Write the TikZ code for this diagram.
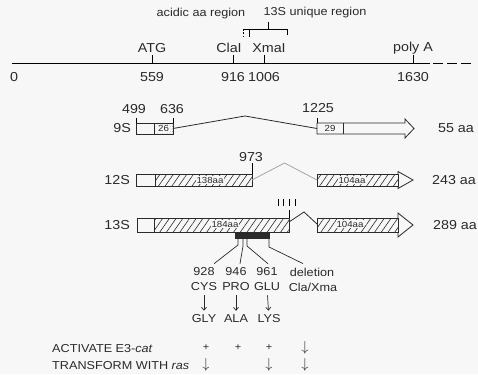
\documentclass[tikz,border=0pt]{standalone}
\usepackage{fontspec}
\setmainfont[FakeStretch=1.1]{Liberation Sans}
\usetikzlibrary{arrows.meta, positioning, calc, patterns.meta}
\definecolor{Paper}{HTML}{F7F7F7}
\definecolor{Ink}{HTML}{2A2A2A}

\begin{document}
\begin{tikzpicture}[
    x=1pt, y=-1pt,
    every node/.style={inner sep=0pt, text=Ink},
    big/.style={font=\fontsize{13}{15}\selectfont},
    mid/.style={font=\fontsize{11.5}{13}\selectfont},
    tiny/.style={font=\fontsize{8.8}{10}\selectfont, fill=Paper, inner sep=0.8pt},
    plusmark/.style={font=\fontsize{10}{12}\selectfont},
    down/.style={font=\fontsize{15}{16}\selectfont},
    exon/.style={draw=Ink, line width=0.8pt},
    coding/.style={pattern={Lines[angle=55, distance=5.5pt, line width=0.6pt]}, pattern color=Ink},
    dotted9/.style={pattern={Dots[distance=2.5pt, radius=0.35pt]}, pattern color=black!55},
    intron/.style={draw=Ink, line width=0.8pt},
    leader/.style={draw=Ink, line width=0.7pt},
    arr/.style={-{Straight Barb[length=3pt, width=5pt]}, line width=0.7pt, draw=Ink,
        shorten <=4pt, shorten >=4pt}
]
\useasboundingbox (0,0) rectangle (478,374);
\fill[Paper] (0,0) rectangle (478,374);

% =============================================
% MAP: regions, sites and scale
% =============================================
\node[mid] (acid) at (201,14) {acidic aa region};
\node[mid] (uniq) at (315,13) {13S unique region};

\coordinate (brA) at (243,29);
\coordinate (brB) at (287,29);
\draw[line width=0.7pt] (brA) -- (brB) (brB) -- ++(0,6)
    (249,29) -- ++(0,8) ($(brA)!0.57!(brB)$) -- ++(0,-7);
\draw[line width=0.7pt, dash pattern=on 2pt off 1.5pt] (brA) -- ++(0,8);

\coordinate (o) at (12,63);
\coordinate (pa) at (430,63);
\draw[line width=0.9pt] (o) -- (pa);
\draw[line width=0.9pt, dash pattern=on 10pt off 4pt] ([xshift=3pt]pa) -- ++(38,0);
\node[big] (p0) at (14,77) {0};

\foreach \x/\lx/\site/\pos in {152/152/ATG/559, 233/229/ClaI/916,
    264/269/XmaI/1006, 413/413/poly A/1630}{
    \draw[line width=0.7pt] (\x,55) -- (\x,63);
    \node[big] (site\pos) at (\lx,48) {\site};
    \node[big] (p\pos) at (\x,77) {\pos};
}

% =============================================
% 9S
% =============================================
\node[big, anchor=east] (r9) at (131,128.5) {9S};
\draw[exon] (136,123) rectangle (154,134);
\draw[exon, dotted9] (154,123) rectangle (173,134);
\node[tiny] (c26) at (163.5,128.5) {26};
\draw[line width=0.7pt] (136,123) -- ++(0,-5) (173,123) -- ++(0,-5) (317,123) -- ++(0,-5);
\node[big] (n499) at (134,109) {499};
\node[big] (n636) at (172,109) {636};
\node[big] (n1225) at (318,108) {1225};

\coordinate (s9) at (173,128.5);
\coordinate (t9) at (317,128.5);
\draw[intron] (s9) -- ($(s9)!0.5!(t9)+(0,-12.5)$) -- (t9);

\draw[exon] (317,123) -- (405,123) -- (405,119) -- (414,128.5) -- (405,138)
    -- (405,134) -- (317,134) -- cycle;
\draw[exon] (343,123) -- (343,134);
\node[tiny] (c29) at (330,128.5) {29};
\node[big] (aa9) at (456,128) {55 aa};

% =============================================
% 12S
% =============================================
\node[big, anchor=east] (r12) at (130,180) {12S};
\draw[exon] (136,174) rectangle (155,186);
\draw[exon, coding] (155,174) rectangle (252,186);
\node[tiny] (c138) at (210,180) {138aa};
\draw[line width=0.7pt] (252,174) -- ++(0,-11);
\node[big] (n973) at (251,157) {973};

\coordinate (s12) at (252,180);
\coordinate (t12) at (317,180);
\draw[intron, draw=black!35] (s12) -- ($(s12)!0.5!(t12)+(0,-17)$) -- (t12);

\draw[exon, coding] (317,174) rectangle (398,186);
\draw[exon] (398,174) -- (398,171.5) -- (413,180) -- (398,188.5) -- (398,186);
\node[tiny] (c104a) at (352,180) {104aa};
\node[big] (aa12) at (454,180) {243 aa};

% =============================================
% 13S
% =============================================
\node[big, anchor=east] (r13) at (130,225) {13S};
\draw[exon] (137,218) rectangle (154,232);
\draw[exon, coding] (154,218) rectangle (289,232);
\node[tiny] (c184) at (225,224) {184aa};
\draw[line width=0.7pt] (289,218) -- ++(0,-8);
\foreach \x in {278,283,289,295}
    \draw[line width=0.7pt] (\x,199) -- (\x,206);

\coordinate (s13) at (289,222);
\coordinate (t13) at (317,224);
\draw[intron] (s13) -- (304,212) -- (t13);

\draw[exon, coding] (317,218) rectangle (398,232);
\draw[exon] (398,218) -- (398,213) -- (413,225) -- (398,237) -- (398,232);
\node[tiny] (c104b) at (350,224) {104aa};
\node[big] (aa13) at (455,225) {289 aa};

% mutations in the unique region
\node[fill=Ink, minimum width=35pt, minimum height=7pt, anchor=north west] (mut) at (235,232) {};

\node[mid] (n928) at (204,272) {928};
\node[mid] (n946) at (236,272) {946};
\node[mid] (n961) at (267,272) {961};
\node[mid] (ndel) at (312,272) {deletion};
\node[mid] (cys) at (204,287) {CYS};
\node[mid] (pro) at (236,287) {PRO};
\node[mid] (glu) at (267,287) {GLU};
\node[mid] (clx) at (313,287) {Cla/Xma};

\draw[leader] (238,239) -- ++(0,6) -- ([shift={(10,-4)}]n928.north);
\draw[leader] (243,239) -- ++(0,7) -- ([shift={(4,-4)}]n946.north);
\draw[leader] (247,239) -- ++(0,7) -- ([shift={(1,-4)}]n961.north);
\draw[leader] (269,239) -- ++(0,8) -- ([shift={(-9,-4)}]ndel.north);

\node[mid] (gly) at (204,319) {GLY};
\node[mid] (ala) at (236,319) {ALA};
\node[mid] (lys) at (269,319) {LYS};
\draw[arr] (cys) -- (gly);
\draw[arr] (pro) -- (ala);
\draw[arr] (glu) -- (lys);

% =============================================
% phenotypes
% =============================================
\node[mid, anchor=west] (act) at (52,349) {ACTIVATE E3-\textit{cat}};
\node[mid, anchor=west] (trf) at (52,366) {TRANSFORM WITH \textit{ras}};
\foreach \x [count=\i] in {206, 238, 269}
    \node[plusmark] (act\i) at (\x,348) {+};
\node[down] (act4) at (305,348) {$\downarrow$};
\foreach \x [count=\i] in {206, 269, 305}
    \node[down] (trf\i) at (\x,365) {$\downarrow$};

\end{tikzpicture}
\end{document}
